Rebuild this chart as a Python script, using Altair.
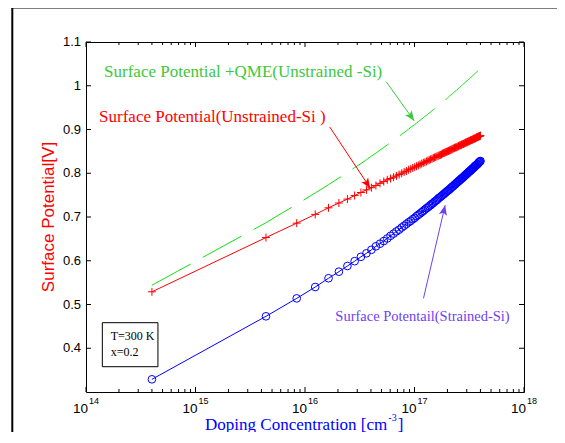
import math
import altair as alt
import pandas as pd

# ---------------- data ----------------
# doping concentration, in units of 1e16 cm^-3
DOPING_E16 = [
    0.04, 0.44, 0.84, 1.24, 1.64, 2.04, 2.44, 2.84, 3.24, 3.64,
    4.04, 4.44, 4.84, 5.24, 5.64, 6.04, 6.44, 6.84, 7.24, 7.64,
    8.04, 8.44, 8.84, 9.24, 9.64, 10.04, 10.44, 10.84, 11.24, 11.64,
    12.04, 12.44, 12.84, 13.24, 13.64, 14.04, 14.44, 14.84, 15.24, 15.64,
    16.04, 16.44, 16.84, 17.24, 17.64, 18.04, 18.44, 18.84, 19.24, 19.64,
    20.04, 20.44, 20.84, 21.24, 21.64, 22.04, 22.44, 22.84, 23.24, 23.64,
    24.04, 24.44, 24.84, 25.24, 25.64, 26.04, 26.44, 26.84, 27.24, 27.64,
    28.04, 28.44, 28.84, 29.24, 29.64, 30.04, 30.44, 30.84, 31.24, 31.64,
    32.04, 32.44, 32.84, 33.24, 33.64, 34.04, 34.44, 34.84, 35.24, 35.64,
    36.04, 36.44, 36.84, 37.24, 37.64, 38.04, 38.44, 38.84, 39.24, 39.64,
    40.04,
]
PHI_UNSTRAINED = [
    0.529, 0.653, 0.686, 0.706, 0.721, 0.732, 0.741, 0.749, 0.756, 0.762,
    0.767, 0.772, 0.777, 0.781, 0.785, 0.788, 0.791, 0.794, 0.797, 0.800,
    0.803, 0.805, 0.808, 0.810, 0.812, 0.814, 0.816, 0.818, 0.820, 0.822,
    0.824, 0.825, 0.827, 0.829, 0.830, 0.832, 0.833, 0.835, 0.836, 0.837,
    0.839, 0.840, 0.841, 0.842, 0.843, 0.845, 0.846, 0.847, 0.848, 0.849,
    0.850, 0.851, 0.852, 0.853, 0.854, 0.855, 0.856, 0.857, 0.858, 0.859,
    0.859, 0.860, 0.861, 0.862, 0.863, 0.864, 0.864, 0.865, 0.866, 0.867,
    0.867, 0.868, 0.869, 0.870, 0.870, 0.871, 0.872, 0.872, 0.873, 0.874,
    0.874, 0.875, 0.876, 0.876, 0.877, 0.877, 0.878, 0.879, 0.879, 0.880,
    0.880, 0.881, 0.882, 0.882, 0.883, 0.883, 0.884, 0.884, 0.885, 0.885,
    0.886,
]
PHI_QME = [
    0.544, 0.687, 0.729, 0.755, 0.774, 0.789, 0.802, 0.813, 0.822, 0.831,
    0.839, 0.846, 0.853, 0.859, 0.865, 0.870, 0.875, 0.880, 0.885, 0.889,
    0.893, 0.897, 0.901, 0.905, 0.908, 0.911, 0.915, 0.918, 0.921, 0.924,
    0.927, 0.930, 0.932, 0.935, 0.938, 0.940, 0.943, 0.945, 0.947, 0.950,
    0.952, 0.954, 0.956, 0.959, 0.961, 0.963, 0.965, 0.967, 0.969, 0.970,
    0.972, 0.974, 0.976, 0.978, 0.979, 0.981, 0.983, 0.985, 0.986, 0.988,
    0.989, 0.991, 0.992, 0.994, 0.995, 0.997, 0.998, 1.000, 1.001, 1.003,
    1.004, 1.006, 1.007, 1.008, 1.010, 1.011, 1.012, 1.013, 1.015, 1.016,
    1.017, 1.018, 1.020, 1.021, 1.022, 1.023, 1.024, 1.026, 1.027, 1.028,
    1.029, 1.030, 1.031, 1.032, 1.033, 1.034, 1.036, 1.037, 1.038, 1.039,
    1.040,
]
PHI_STRAINED = [
    0.329, 0.473, 0.514, 0.540, 0.560, 0.575, 0.588, 0.599, 0.609, 0.617,
    0.625, 0.633, 0.639, 0.645, 0.651, 0.657, 0.662, 0.667, 0.671, 0.676,
    0.680, 0.684, 0.688, 0.691, 0.695, 0.698, 0.702, 0.705, 0.708, 0.711,
    0.714, 0.717, 0.720, 0.722, 0.725, 0.727, 0.730, 0.732, 0.735, 0.737,
    0.739, 0.742, 0.744, 0.746, 0.748, 0.750, 0.752, 0.754, 0.756, 0.758,
    0.760, 0.761, 0.763, 0.765, 0.767, 0.769, 0.770, 0.772, 0.774, 0.775,
    0.777, 0.779, 0.780, 0.782, 0.783, 0.785, 0.786, 0.788, 0.789, 0.790,
    0.792, 0.793, 0.795, 0.796, 0.797, 0.799, 0.800, 0.801, 0.803, 0.804,
    0.805, 0.806, 0.807, 0.809, 0.810, 0.811, 0.812, 0.813, 0.815, 0.816,
    0.817, 0.818, 0.819, 0.820, 0.821, 0.822, 0.824, 0.825, 0.826, 0.827,
    0.828,
]

Y_TICKS = [0.4, 0.5, 0.6, 0.7, 0.8, 0.9, 1.0, 1.1]
Y_TICK_LABELS = ["0.4", "0.5", "0.6", "0.7", "0.8", "0.9", "1", "1.1"]
X_MAJOR = [1e14, 1e15, 1e16, 1e17, 1e18]
X_EXPONENTS = ["14", "15", "16", "17", "18"]
X_MINOR = [m * 10.0 ** e for e in range(14, 18) for m in range(2, 10)]

ANN_TEXT = [
    "Surface Potential +QME(Unstrained -Si)",
    "Surface Potential(Unstrained-Si )",
    "Surface Potentail(Strained-Si)",
]
BOX_TEXT = ["T=300 K", "x=0.2"]

# ---------------- layout ----------------
W, H = 438, 350
PAD = {"left": 78, "top": 34, "right": 33, "bottom": 40}
X_DOM = [1e14, 1e18]
Y_DOM = [0.3, 1.1]
GREEN_LINE = "#11e011"
GREEN_TXT = "#3cc83c"
RED = "#ff0000"
BLUE = "#0000ff"
PURPLE = "#7040f0"
SANS = "Liberation Sans"
SERIF = "Liberation Serif"

xs = alt.Scale(type="log", domain=X_DOM, nice=False)
ys = alt.Scale(domain=Y_DOM, nice=False, zero=False)


def X(f="x"):
    return alt.X(f"{f}:Q", scale=xs, axis=None)


def Y(f="y"):
    return alt.Y(f"{f}:Q", scale=ys, axis=None)


df = pd.DataFrame({
    "x": [v * 1e16 for v in DOPING_E16],
    "red": PHI_UNSTRAINED,
    "green": PHI_QME,
    "blue": PHI_STRAINED,
})

green_line = alt.Chart(df).mark_line(color=GREEN_LINE, strokeWidth=1, strokeDash=[44, 14]).encode(X(), Y("green"))
red_line = alt.Chart(df).mark_line(color=RED, strokeWidth=1).encode(X(), Y("red"))
red_pts = alt.Chart(df).mark_point(shape="M-1,0L1,0M0,-1L0,1", size=64, color=RED,
                                   strokeWidth=1, filled=False, opacity=1).encode(X(), Y("red"))
blue_line = alt.Chart(df).mark_line(color=BLUE, strokeWidth=1).encode(X(), Y("blue"))
blue_pts = alt.Chart(df).mark_point(shape="circle", size=59, color=BLUE,
                                    strokeWidth=1, filled=False, opacity=1).encode(X(), Y("blue"))

# ticks (inward, MATLAB style)
yt = pd.DataFrame({"y": Y_TICKS, "label": Y_TICK_LABELS})
xt = pd.DataFrame({"x": X_MAJOR, "exp": X_EXPONENTS})
xm = pd.DataFrame({"x": X_MINOR})

tick_style = dict(color="black", strokeWidth=1)
y_tick_l = alt.Chart(yt).mark_rule(**tick_style).encode(y=Y(), x=alt.value(0), x2=alt.value(5))
y_tick_r = alt.Chart(yt).mark_rule(**tick_style).encode(y=Y(), x=alt.value(W - 5), x2=alt.value(W))
y_labels = alt.Chart(yt).mark_text(align="right", baseline="middle", font=SANS, fontSize=13,
                                   color="black").encode(y=Y(), x=alt.value(-5), text="label:N")
x_tick_b = alt.Chart(xt).mark_rule(**tick_style).encode(x=X(), y=alt.value(H - 5), y2=alt.value(H))
x_tick_t = alt.Chart(xt).mark_rule(**tick_style).encode(x=X(), y=alt.value(0), y2=alt.value(5))
x_mtick_b = alt.Chart(xm).mark_rule(**tick_style).encode(x=X(), y=alt.value(H - 3), y2=alt.value(H))
x_mtick_t = alt.Chart(xm).mark_rule(**tick_style).encode(x=X(), y=alt.value(0), y2=alt.value(3))
x_lab10 = alt.Chart(xt).mark_text(align="right", baseline="middle", font=SANS, fontSize=13.5, dx=2,
                                  color="black").encode(x=X(), y=alt.value(H + 17), text=alt.value("10"))
x_labexp = alt.Chart(xt).mark_text(align="left", baseline="middle", font=SANS, fontSize=9, dx=3,
                                   color="black").encode(x=X(), y=alt.value(H + 8.7), text="exp:N")

# axis titles
one = pd.DataFrame({"t": ["Surface Potential[V]"]})
y_title = alt.Chart(one).mark_text(angle=270, align="center", baseline="middle", font=SANS,
                                   fontSize=17, color=RED).encode(
    x=alt.value(-37.4), y=alt.value(H / 2), text="t:N")
XT_BASE = H + 38
xt1 = alt.Chart(pd.DataFrame({"t": ["Doping Concentration [cm"]})).mark_text(
    align="right", baseline="alphabetic", font=SERIF, fontSize=17, color=BLUE).encode(
    x=alt.value(301.3), y=alt.value(XT_BASE), text="t:N")
xt2 = alt.Chart(pd.DataFrame({"t": ["-3"]})).mark_text(
    align="left", baseline="alphabetic", font=SERIF, fontSize=10, color=BLUE).encode(
    x=alt.value(302.3), y=alt.value(XT_BASE - 9), text="t:N")
xt3 = alt.Chart(pd.DataFrame({"t": ["]"]})).mark_text(
    align="left", baseline="alphabetic", font=SERIF, fontSize=17, color=BLUE).encode(
    x=alt.value(311.8), y=alt.value(XT_BASE), text="t:N")

# annotations (data coordinates)
ann = pd.DataFrame({
    "x": [1.462e14, 1.316e14, 1.892e16],
    "y": [1.031, 0.928, 0.471],
    "text": ANN_TEXT,
    "color": [GREEN_TXT, RED, PURPLE],
    "size": [17, 17, 14.5],
})
ann_text = alt.Chart(ann).mark_text(align="left", baseline="middle", font=SERIF).encode(
    X(), Y(), text="text:N", color=alt.Color("color:N", scale=None),
    size=alt.Size("size:Q", scale=None))

arrows = pd.DataFrame({
    "x": [5.52e16, 1.68e16, 1.208e17],
    "y": [1.009, 0.906, 0.514],
    "x2": [9.93e16, 3.94e16, 1.905e17],
    "y2": [0.920, 0.766, 0.727],
    "color": [GREEN_TXT, RED, PURPLE],
})


def _px(v):
    return W * (math.log10(v) - 14) / 4


def _py(v):
    return H * (Y_DOM[1] - v) / (Y_DOM[1] - Y_DOM[0])


arrows["ang"] = [
    (math.degrees(math.atan2(_px(b) - _px(a), -(_py(d) - _py(c)))) + 360) % 360
    for a, b, c, d in zip(arrows["x"], arrows["x2"], arrows["y"], arrows["y2"])
]
shafts = alt.Chart(arrows).mark_rule(strokeWidth=1).encode(
    x=X("x"), x2="x2:Q", y=Y("y"), y2="y2:Q", color=alt.Color("color:N", scale=None))
heads = alt.Chart(arrows).mark_point(shape="M0,0L0.45,1.1L0,0.85L-0.45,1.1Z", size=330,
                                     filled=True, opacity=1, strokeWidth=0).encode(
    x=X("x2"), y=Y("y2"), angle=alt.Angle("ang:Q", scale=None),
    color=alt.Color("color:N", scale=None))

# parameter box
box = alt.Chart(pd.DataFrame({"x": [1.41e14], "x2": [4.54e14], "y": [0.4584], "y2": [0.3578]})).mark_rect(
    fill="white", stroke="black", strokeWidth=1).encode(x=X("x"), x2="x2:Q", y=Y("y"), y2="y2:Q")
box_text = alt.Chart(pd.DataFrame({"x": [1.68e14, 1.68e14], "y": [0.428, 0.391], "t": BOX_TEXT})).mark_text(
    align="left", baseline="middle", font=SERIF, fontSize=12, color="black").encode(X(), Y(), text="t:N")

# outer figure frame: only its top and left edges fall inside the picture
one_row = pd.DataFrame({"a": [0]})
frame_top = alt.Chart(one_row).mark_rule(color="black", strokeWidth=2).encode(
    x=alt.value(-74.7), x2=alt.value(W + PAD["right"]), y=alt.value(-34.4))
frame_left = alt.Chart(one_row).mark_rule(color="black", strokeWidth=2).encode(
    x=alt.value(-73.7), y=alt.value(-35.4), y2=alt.value(H + PAD["bottom"]))

chart = alt.layer(
    frame_top, frame_left, box, box_text,
    green_line, red_line, red_pts, blue_line, blue_pts,
    shafts, heads, ann_text,
    y_tick_l, y_tick_r, y_labels, x_tick_b, x_tick_t, x_mtick_b, x_mtick_t, x_lab10, x_labexp,
    y_title, xt1, xt2, xt3,
).properties(
    width=W, height=H,
    autosize=alt.AutoSizeParams(type="none"),
    padding=PAD,
    background="white",
).configure_view(stroke="black", strokeWidth=1)

chart.save("out.html", embed_options={"renderer": "svg", "actions": False})
